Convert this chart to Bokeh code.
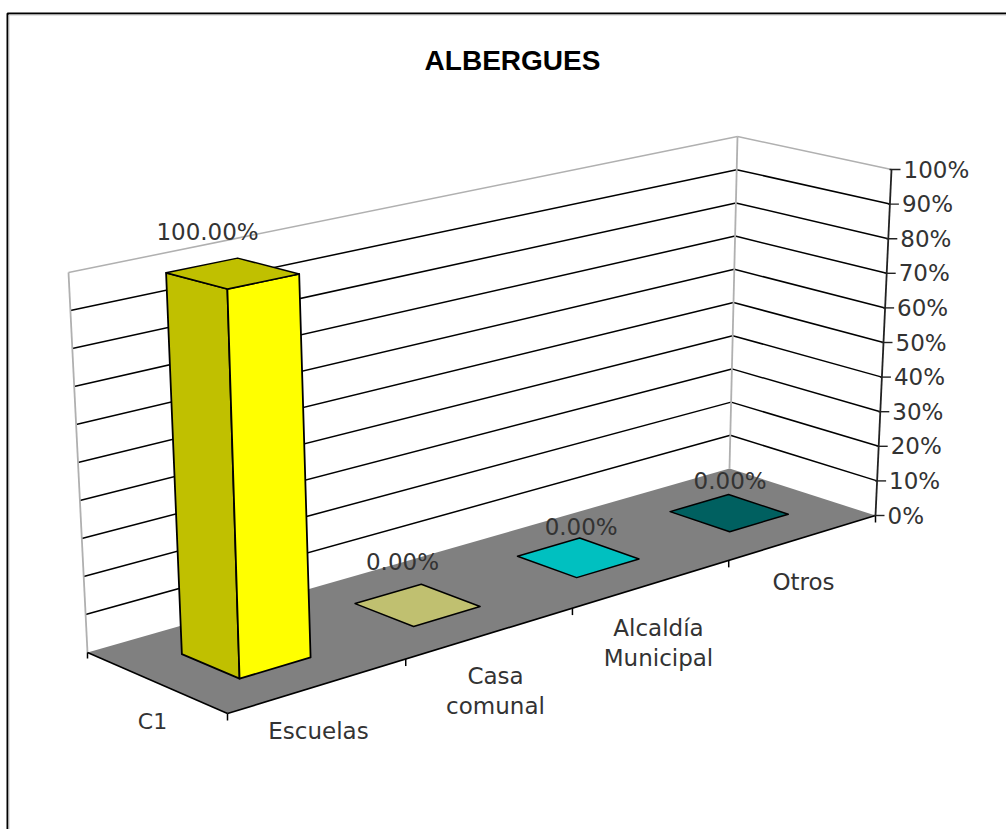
import numpy as np
from bokeh.plotting import figure
from bokeh.models import Range1d
from bokeh.core.properties import value
from bokeh.embed import file_html
from bokeh.resources import INLINE

# ---------- data ----------
title = "ALBERGUES"
categories = ["Escuelas", "Casa\ncomunal", "Alcaldía\nMunicipal", "Otros"]
series_name = "C1"
values = [100.0, 0.0, 0.0, 0.0]
y_ticks = [0, 10, 20, 30, 40, 50, 60, 70, 80, 90, 100]
bar_side = ["#C0C000", "#C0C070", "#00C0C0", "#006060"]
bar_face = ["#FFFF00", "#FFFF99", "#00FFFF", "#008080"]

# ---------- layout: the oblique projection of the 3D box, page pixels ----------
W, H = 1006, 829
FLOOR = [(227, 713), (875, 515), (729, 468), (87, 652)]   # (u,v)=(0,0),(1,0),(1,1),(0,1)
TOP = [(217, 312), (891, 169), (737, 136), (68, 272)]
BAR_HALF_U = 0.05
BAR_HALF_V = 0.205
FONT = value("DejaVu Sans")


def homography(quad):
    src = [(0, 0), (1, 0), (1, 1), (0, 1)]
    A, b = [], []
    for (u, v), (x, y) in zip(src, quad):
        A.append([u, v, 1, 0, 0, 0, -u * x, -v * x]); b.append(x)
        A.append([0, 0, 0, u, v, 1, -u * y, -v * y]); b.append(y)
    return np.append(np.linalg.solve(np.array(A, float), np.array(b, float)), 1).reshape(3, 3)


HF, HT = homography(FLOOR), homography(TOP)


def project(u, v, pct=0.0):
    """category position u, depth v, value axis pct -> page pixel"""
    def ap(M):
        q = M @ np.array([u, v, 1.0])
        return q[:2] / q[2]
    return tuple(ap(HF) + (ap(HT) - ap(HF)) * pct / y_ticks[-1])


p = figure(width=W, height=H, x_range=Range1d(0, W), y_range=Range1d(H, 0),
           x_axis_type=None, y_axis_type=None, toolbar_location=None,
           output_backend="svg", min_border=0, outline_line_color=None,
           background_fill_color="white", border_fill_color="white",
           styles={"position": "absolute", "left": "0px", "top": "0px"})
p.grid.visible = False


def poly(pts, fill, line="black", lw=1.8):
    xs, ys = zip(*pts)
    p.patch(list(xs), list(ys), fill_color=fill, line_color=line, line_width=lw, line_join="round")


def seg(a, b, color="black", lw=1.5):
    p.line([a[0], b[0]], [a[1], b[1]], line_color=color, line_width=lw)


# chart frame
p.line([1006, 7, 7], [13, 13, 829], line_color="black", line_width=2)
p.line([1006, 8.5, 8.5], [14.5, 14.5, 829], line_color="#c8c8c8", line_width=1)

# floor
poly([project(0, 0), project(1, 0), project(1, 1), project(0, 1)], "#808080", line=None, lw=0)

# walls
for t in y_ticks[1:]:
    c = "#b0b0b0" if t == y_ticks[-1] else "black"
    seg(project(0, 1, t), project(1, 1, t), c)
    seg(project(1, 1, t), project(1, 0, t), c)
seg(project(0, 1, 0), project(0, 1, y_ticks[-1]), "#b0b0b0", 1.8)
seg(project(1, 1, 0), project(1, 1, y_ticks[-1]), "#b0b0b0", 1.8)

# floor front edges and category ticks
seg(project(0, 1), project(0, 0), "black", 1.6)
seg(project(0, 0), project(1, 0), "black", 1.6)
n = len(categories)
for i in range(n + 1):
    a = project(i / n, 0)
    seg(a, (a[0], a[1] + 7))
a = project(0, 1)
seg(a, (a[0], a[1] + 6))

# value axis
seg(project(1, 0, 0), project(1, 0, y_ticks[-1]), "#222222", 1.8)
for t in y_ticks:
    a = project(1, 0, t)
    seg((a[0] - 2, a[1]), (a[0] + 9, a[1]), "#222222", 1.4)
    p.text([a[0] + 12], [a[1]], text=[f"{t}%"], text_font=FONT, text_font_size="23px",
           text_color="#333333", text_align="left", text_baseline="middle")

# bars
label_offset = [(-25, -41), (-15, -43), (3, -31), (1, -32)]
for i, val in enumerate(values):
    uc = (i + 0.5) / n
    u0, u1, v0, v1 = uc - BAR_HALF_U, uc + BAR_HALF_U, 0.5 - BAR_HALF_V, 0.5 + BAR_HALF_V
    if val > 0:
        poly([project(u0, v1), project(u0, v0), project(u0, v0, val), project(u0, v1, val)], bar_side[i])
        poly([project(u0, v0), project(u1, v0), project(u1, v0, val), project(u0, v0, val)], bar_face[i])
    poly([project(u0, v0, val), project(u1, v0, val), project(u1, v1, val), project(u0, v1, val)],
         bar_side[i], lw=1.5)
    c = project(uc, 0.5, val)
    p.text([c[0] + label_offset[i][0]], [c[1] + label_offset[i][1]], text=[f"{val:.2f}%"],
           text_font=FONT, text_font_size="23px", text_color="#333333",
           text_align="center", text_baseline="middle")

# category labels
cat_pos = [(318, 730), (495, 690), (658, 642), (803, 581)]
for lab, (x, y) in zip(categories, cat_pos):
    lines = lab.split("\n")
    for k, t in enumerate(lines):
        p.text([x], [y + (k - (len(lines) - 1) / 2) * 30], text=[t], text_font=FONT,
               text_font_size="23px", text_color="#333333", text_align="center", text_baseline="middle")
p.text([152], [721], text=[series_name], text_font=FONT, text_font_size="22px",
       text_color="#333333", text_align="center", text_baseline="middle")

# title
p.text([512], [60], text=[title], text_font=value("Liberation Sans"), text_font_size="28px",
       text_font_style="bold", text_color="black", text_align="center", text_baseline="middle")

open("out.html", "w").write(file_html(p, INLINE))
